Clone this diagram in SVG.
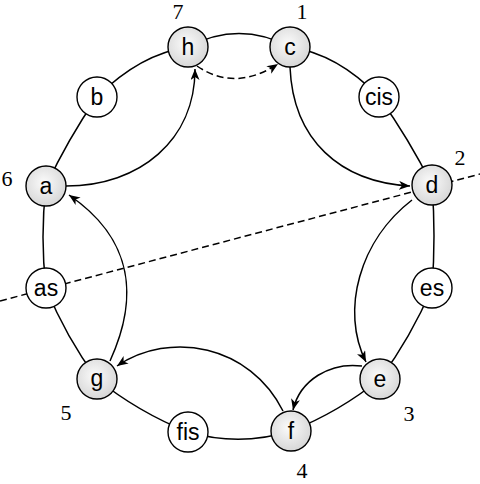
<svg xmlns="http://www.w3.org/2000/svg" width="480" height="484" viewBox="0 0 480 484">
<defs>
<radialGradient id="gr" cx="45%" cy="42%" r="60%">
<stop offset="0" stop-color="#fbfbfb"/>
<stop offset="1" stop-color="#d6d6d6"/>
</radialGradient>
<marker id="ah" markerUnits="userSpaceOnUse" markerWidth="12" markerHeight="10" refX="11" refY="4.5" orient="auto">
<path d="M0,0 L11,4.5 L0,9 L3,4.5 z" fill="#000"/>
</marker>
<style>
.e{fill:none;stroke:#000;stroke-width:1.5}
.a{fill:none;stroke:#000;stroke-width:1.5;marker-end:url(#ah)}
.d{stroke-dasharray:7,4}
.n{stroke:#000;stroke-width:1.4}
.g{fill:url(#gr)}
.w{fill:#fff}
.t{font-family:"Liberation Sans Narrow","Liberation Sans",Arial,sans-serif;font-size:23px;text-anchor:middle;fill:#000}
.num{font-family:"Liberation Serif","Times New Roman",serif;font-size:22px;text-anchor:middle;fill:#000}
</style>
</defs>
<g id="connectors">
<line class="e d" x1="0" y1="301" x2="480" y2="174"/>
<path class="e" d="M188,47 Q239,20 290,47"/>
<path class="e" d="M290,47 Q338,54 379,97"/>
<path class="e" d="M188,47 Q140,54 97,97"/>
<path class="e" d="M379,97 Q409,139 432,185"/>
<path class="e" d="M97,97 Q68,139 46,186"/>
<path class="e" d="M432,185 Q436,236 432,288"/>
<path class="e" d="M46,186 Q40,237 46,288"/>
<path class="e" d="M432,288 Q411,337 380,379"/>
<path class="e" d="M46,288 Q66,337 97,379"/>
<path class="e" d="M380,379 Q339,412 291,431"/>
<path class="e" d="M97,379 Q138,412 188,432"/>
<path class="e" d="M188,432 Q240,447 291,431"/>
<path class="a" d="M66,186 C140,186 195,140 195,69"/>
<path class="a" d="M290,67 C293,140 340,182 410,186"/>
<path class="a" d="M412,200 C360,240 340,310 366,362"/>
<path class="a" d="M362,366 C330,362 300,380 293,410"/>
<path class="a" d="M283,411 C250,345 170,330 117,366"/>
<path class="a" d="M110,361 C138,300 135,240 69,195"/>
<path class="a d" d="M197,66 Q235,92 278,64"/>
</g>
<g id="node-c"><circle class="n g" cx="290" cy="47" r="20"/><text class="t" x="290" y="55">c</text></g>
<g id="node-cis"><circle class="n w" cx="379" cy="97" r="20"/><text class="t" x="379" y="105">cis</text></g>
<g id="node-d"><circle class="n g" cx="432" cy="185" r="20"/><text class="t" x="432" y="193">d</text></g>
<g id="node-es"><circle class="n w" cx="432" cy="288" r="20"/><text class="t" x="432" y="296">es</text></g>
<g id="node-e"><circle class="n g" cx="380" cy="379" r="20"/><text class="t" x="380" y="387">e</text></g>
<g id="node-f"><circle class="n g" cx="291" cy="431" r="20"/><text class="t" x="291" y="439">f</text></g>
<g id="node-fis"><circle class="n w" cx="188" cy="432" r="20"/><text class="t" x="188" y="440">fis</text></g>
<g id="node-g"><circle class="n g" cx="97" cy="379" r="20"/><text class="t" x="97" y="386">g</text></g>
<g id="node-as"><circle class="n w" cx="46" cy="288" r="20"/><text class="t" x="46" y="296">as</text></g>
<g id="node-a"><circle class="n g" cx="46" cy="186" r="20"/><text class="t" x="46" y="194">a</text></g>
<g id="node-b"><circle class="n w" cx="97" cy="97" r="20"/><text class="t" x="97" y="105">b</text></g>
<g id="node-h"><circle class="n g" cx="188" cy="47" r="20"/><text class="t" x="188" y="55">h</text></g>
<g id="labels">
<text class="num" x="302" y="19">1</text>
<text class="num" x="460" y="165">2</text>
<text class="num" x="409" y="421">3</text>
<text class="num" x="302" y="478">4</text>
<text class="num" x="66" y="420">5</text>
<text class="num" x="7" y="186">6</text>
<text class="num" x="178" y="19">7</text>
</g>
</svg>
